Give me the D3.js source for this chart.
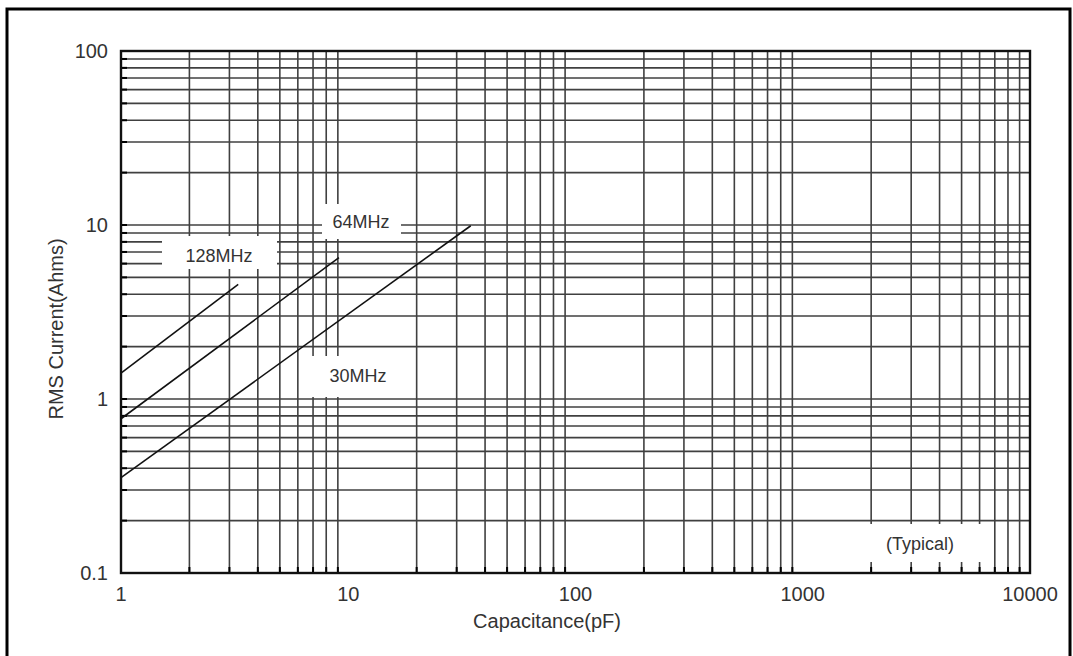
<!DOCTYPE html>
<html><head><meta charset="utf-8">
<script src="https://cdn.jsdelivr.net/npm/d3@7"></script>
<style>body{margin:0;background:#fff}svg{display:block}text{font-family:"Liberation Sans",Arial,sans-serif}</style>
</head><body><svg id="c" width="1073" height="656"></svg>
<script>
const xTicks = [1, 10, 100, 1000, 10000];
const xTickLabels = ["1", "10", "100", "1000", "10000"];
const yTicks = [0.1, 1, 10, 100];
const yTickLabels = ["0.1", "1", "10", "100"];
const seriesNames = ["128MHz", "64MHz", "30MHz"];
const seriesCap = [[1, 3.28], [1, 9.1], [1, 34.6]];
const seriesCurrent = [[1.41, 4.56], [0.77, 6.5], [0.353, 9.9]];
const noteText = "(Typical)";
const xTitle = "Capacitance(pF)";
const yTitle = "RMS Current(Ahms)";

const svg = d3.select("#c");
const L = 121, R = 1030, T = 51, B = 573;
const x = d3.scaleLog().domain([1, 10000]).range([L, R]);
const y = d3.scaleLog().domain([0.1, 100]).range([B, T]);

// outer border
svg.append("rect").attr("x", 7).attr("y", 9).attr("width", 1063).attr("height", 700)
  .attr("fill", "none").attr("stroke", "#000").attr("stroke-width", 3);

// minor grid values
const xGrid = [], yGrid = [];
for (let d = 1; d < 10000; d *= 10) for (let k = 2; k <= 9; k++) xGrid.push(d * k);
for (let d = 0.1; d < 99; d *= 10) for (let k = 1; k <= 9; k++) { const v = +(d * k).toPrecision(3); if (v > 0.1) yGrid.push(v); }

const g = svg.append("g");
g.selectAll(".vg").data(xGrid).join("line")
  .attr("x1", d => x(d)).attr("x2", d => x(d)).attr("y1", T).attr("y2", B)
  .attr("stroke", "#404040").attr("stroke-width", 1.6);
g.selectAll(".hg").data(yGrid).join("line")
  .attr("x1", L).attr("x2", R).attr("y1", d => y(d)).attr("y2", d => y(d))
  .attr("stroke", "#404040").attr("stroke-width", 1.6);

// label boxes (white knockouts)
const boxes = [
  {x0: 162, x1: 277, y0: 236, y1: 269, text: seriesNames[0], tx: 219, ty: 262},
  {x0: 322, x1: 401, y0: 204, y1: 239, text: seriesNames[1], tx: 361, ty: 228},
  {x0: 304, x1: 398, y0: 356, y1: 397, text: seriesNames[2], tx: 358, ty: 382},
  {x0: 866, x1: 985, y0: 524, y1: 562, text: noteText, tx: 920, ty: 550}
];
svg.selectAll(".box").data(boxes).join("rect")
  .attr("x", d => d.x0).attr("y", d => d.y0).attr("width", d => d.x1 - d.x0).attr("height", d => d.y1 - d.y0)
  .attr("fill", "#fff");

// ticks inward
svg.selectAll(".yt").data(yGrid).join("line")
  .attr("x1", L).attr("x2", L + 6).attr("y1", d => y(d)).attr("y2", d => y(d))
  .attr("stroke", "#000").attr("stroke-width", 2);
svg.selectAll(".xt").data(xGrid).join("line")
  .attr("x1", d => x(d)).attr("x2", d => x(d)).attr("y1", B).attr("y2", B - 6)
  .attr("stroke", "#000").attr("stroke-width", 2);

// frame
svg.append("rect").attr("x", L).attr("y", T).attr("width", R - L).attr("height", B - T)
  .attr("fill", "none").attr("stroke", "#111").attr("stroke-width", 2.4);

// series lines
const line = d3.line().x(d => x(d[0])).y(d => y(d[1]));
seriesNames.forEach((n, i) => {
  const pts = seriesCap[i].map((c, j) => [c, seriesCurrent[i][j]]);
  svg.append("path").attr("d", line(pts)).attr("fill", "none")
    .attr("stroke", "#111").attr("stroke-width", 1.6);
});

// box labels
svg.selectAll(".bl").data(boxes).join("text")
  .attr("x", d => d.tx).attr("y", d => d.ty).attr("text-anchor", "middle")
  .attr("font-size", 18).attr("fill", "#333").text(d => d.text);

// tick labels
svg.selectAll(".xl").data(xTicks).join("text")
  .attr("x", d => x(d)).attr("y", 601).attr("text-anchor", "middle")
  .attr("font-size", 20).attr("fill", "#333").text((d, i) => xTickLabels[i]);
svg.selectAll(".yl").data(yTicks).join("text")
  .attr("x", 108).attr("y", d => y(d) + 7).attr("text-anchor", "end")
  .attr("font-size", 20).attr("fill", "#333").text((d, i) => yTickLabels[i]);

// axis titles
svg.append("text").attr("x", 547).attr("y", 628).attr("text-anchor", "middle")
  .attr("font-size", 20).attr("fill", "#333").text(xTitle);
svg.append("text").attr("transform", "translate(63,329) rotate(-90)").attr("text-anchor", "middle")
  .attr("font-size", 20).attr("fill", "#333").text(yTitle);
</script></body></html>
